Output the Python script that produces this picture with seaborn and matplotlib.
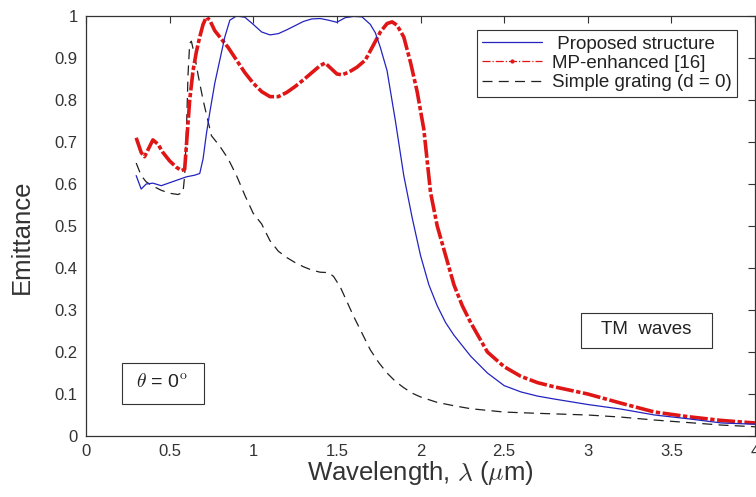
import numpy as np
import pandas as pd
import matplotlib.pyplot as plt
import seaborn as sns
from matplotlib.lines import Line2D
from matplotlib.patches import Rectangle
from matplotlib.ticker import FormatStrFormatter

# Proposed structure
blue_x = [0.30, 0.33, 0.36, 0.40, 0.45, 0.50, 0.55, 0.60, 0.65, 0.68, 0.70, 0.72, 0.74, 0.77, 0.80,
          0.83, 0.86, 0.90, 0.95, 1.00, 1.05, 1.10, 1.15, 1.20, 1.25, 1.30, 1.35, 1.40, 1.45, 1.50,
          1.55, 1.60, 1.65, 1.70, 1.73, 1.76, 1.80, 1.85, 1.90, 1.95, 2.00, 2.05, 2.10, 2.15, 2.20,
          2.30, 2.40, 2.50, 2.60, 2.70, 2.80, 3.00, 3.20, 3.40, 3.60, 3.80, 4.00]
blue_y = [0.62, 0.588, 0.60, 0.602, 0.596, 0.603, 0.61, 0.617, 0.621, 0.625, 0.66, 0.72, 0.77, 0.84, 0.895,
          0.95, 0.99, 1.0, 0.997, 0.98, 0.962, 0.955, 0.958, 0.967, 0.977, 0.987, 0.993, 0.994, 0.99, 0.985,
          0.996, 0.999, 0.998, 0.98, 0.96, 0.925, 0.87, 0.75, 0.62, 0.52, 0.43, 0.36, 0.31, 0.27, 0.24,
          0.19, 0.15, 0.12, 0.105, 0.095, 0.088, 0.075, 0.064, 0.05, 0.041, 0.031, 0.028]

# MP-enhanced [16]
red_x = [0.30, 0.33, 0.35, 0.40, 0.43, 0.46, 0.50, 0.54, 0.57, 0.59, 0.60, 0.62, 0.64, 0.66, 0.68,
         0.70, 0.72, 0.74, 0.77, 0.80, 0.85, 0.90, 0.95, 1.00, 1.05, 1.10, 1.15, 1.20, 1.25, 1.30,
         1.35, 1.40, 1.43, 1.46, 1.50, 1.53, 1.57, 1.62, 1.67, 1.72, 1.76, 1.80, 1.83, 1.86, 1.90,
         1.94, 1.98, 2.02, 2.06, 2.10, 2.15, 2.20, 2.25, 2.30, 2.40, 2.50, 2.60, 2.70, 2.80, 3.00,
         3.20, 3.40, 3.60, 3.80, 4.00]
red_y = [0.71, 0.675, 0.665, 0.705, 0.695, 0.675, 0.655, 0.64, 0.632, 0.635, 0.69, 0.80, 0.87, 0.915, 0.95,
         0.98, 0.998, 0.99, 0.965, 0.95, 0.925, 0.895, 0.865, 0.84, 0.82, 0.808, 0.808, 0.818, 0.832, 0.848,
         0.865, 0.882, 0.888, 0.877, 0.862, 0.86, 0.866, 0.878, 0.895, 0.932, 0.962, 0.982, 0.986, 0.978, 0.95,
         0.89, 0.82, 0.73, 0.58, 0.50, 0.43, 0.36, 0.31, 0.27, 0.20, 0.165, 0.142, 0.127, 0.117, 0.10,
         0.078, 0.057, 0.046, 0.037, 0.031]

# Simple grating (d = 0)
black_x = [0.30, 0.33, 0.36, 0.40, 0.45, 0.50, 0.55, 0.58, 0.59, 0.60, 0.61, 0.62, 0.63, 0.65, 0.67,
           0.70, 0.75, 0.80, 0.85, 0.90, 0.95, 1.00, 1.05, 1.10, 1.15, 1.20, 1.25, 1.30, 1.35, 1.40,
           1.45, 1.48, 1.52, 1.56, 1.60, 1.65, 1.70, 1.75, 1.80, 1.85, 1.90, 1.95, 2.00, 2.10, 2.20,
           2.30, 2.50, 2.70, 3.00, 3.20, 3.40, 3.60, 3.80, 4.00]
black_y = [0.65, 0.62, 0.605, 0.595, 0.585, 0.578, 0.575, 0.58, 0.62, 0.72, 0.86, 0.935, 0.94, 0.905, 0.86,
           0.80, 0.715, 0.69, 0.66, 0.62, 0.573, 0.53, 0.505, 0.465, 0.44, 0.425, 0.413, 0.403, 0.395, 0.39,
           0.389, 0.38, 0.355, 0.32, 0.285, 0.245, 0.205, 0.175, 0.15, 0.13, 0.115, 0.102, 0.093, 0.08, 0.072,
           0.065, 0.057, 0.054, 0.05, 0.045, 0.038, 0.032, 0.026, 0.022]

labels = [' Proposed structure', 'MP-enhanced [16]', 'Simple grating (d = 0)']
xticks = [0, 0.5, 1, 1.5, 2, 2.5, 3, 3.5, 4]
yticks = [0, 0.1, 0.2, 0.3, 0.4, 0.5, 0.6, 0.7, 0.8, 0.9, 1]

sns.set_style('white')
plt.rcParams['font.family'] = ['Liberation Sans', 'DejaVu Sans']
plt.rcParams['mathtext.fontset'] = 'cm'

c_blue = '#2323c0'
c_red = '#e01515'
c_black = '#202020'
txt = '#333333'

fig = plt.figure(figsize=(7.56, 4.97), dpi=100)
ax = fig.add_axes([86 / 756, 61 / 497, 669 / 756, 420 / 497])

sns.lineplot(x=black_x, y=black_y, ax=ax, sort=False, estimator=None, color=c_black,
             lw=0.9, linestyle=(0, (8, 5)))
sns.lineplot(x=red_x, y=red_y, ax=ax, sort=False, estimator=None, color=c_red,
             lw=2.6, linestyle=(0, (5, 0.7, 1.2, 0.7)))
sns.lineplot(x=blue_x, y=blue_y, ax=ax, sort=False, estimator=None, color=c_blue, lw=0.9)

ax.set_xlim(0, 4)
ax.set_ylim(0, 1)
ax.set_xticks(xticks)
ax.set_yticks(yticks)
ax.xaxis.set_major_formatter(FormatStrFormatter('%g'))
ax.yaxis.set_major_formatter(FormatStrFormatter('%g'))
ax.tick_params(direction='in', length=5, width=0.8, top=True, right=True,
               labelsize=12, labelcolor=txt, color='#333333', pad=6)
for s in ax.spines.values():
    s.set_color('#333333')
    s.set_linewidth(0.9)

ax.set_xlabel(r'Wavelength, $\lambda$ ($\mu$m)', fontsize=18.5, color=txt, labelpad=0)
ax.set_ylabel('Emittance', fontsize=18.5, color=txt)
ax.yaxis.set_label_coords(-0.078, 0.475)

handles = [
    Line2D([], [], color=c_blue, lw=0.9),
    Line2D([], [], color=c_red, lw=0.9, linestyle='-.', marker='.', markersize=4),
    Line2D([], [], color=c_black, lw=0.9, linestyle=(0, (8, 5))),
]
leg = ax.legend(handles, labels, loc='upper right', bbox_to_anchor=(0.973, 0.967),
                borderaxespad=0, fontsize=13.5, handlelength=3.2, labelspacing=0.12,
                fancybox=False, framealpha=1, edgecolor='#333333', borderpad=0.3,
                handletextpad=0.5)
leg.get_frame().set_linewidth(0.8)
for t in leg.get_texts():
    t.set_color('#222222')

# annotation boxes
ax.add_patch(Rectangle((2.958, 0.2095), 0.785, 0.0835, fill=False, ec='#333333', lw=0.8))
ax.text(3.35, 0.253, 'TM  waves', ha='center', va='center', fontsize=13.5, color='#222222')
ax.add_patch(Rectangle((0.216, 0.0762), 0.491, 0.0978, fill=False, ec='#333333', lw=0.8))
ax.text(0.45, 0.128, r'$\theta$ = 0$^{\rm o}$', ha='center', va='center', fontsize=14, color='#222222')

fig.savefig('out.png', dpi=100)
